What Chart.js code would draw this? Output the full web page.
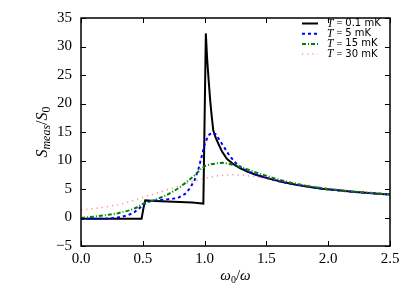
<!DOCTYPE html>
<html>
<head>
<meta charset="utf-8">
<script src="https://cdn.jsdelivr.net/npm/chart.js@4/dist/chart.umd.min.js"></script>
<style>
  html, body { margin: 0; padding: 0; background: #fff; }
  #wrap { width: 407px; height: 289px; }
</style>
</head>
<body>
<div id="wrap"><canvas id="chart" width="407" height="289"></canvas></div>
<script>
// values
const xTicks = [0, 0.5, 1.0, 1.5, 2.0, 2.5];
const yTicks = [-5, 0, 5, 10, 15, 20, 25, 30, 35];

const seriesLabels = ["0.1 mK", "5 mK", "15 mK", "30 mK"];

const xBlack = [0, 0.49, 0.505, 0.52, 0.6, 0.7, 0.8, 0.9, 0.96, 0.99, 1.01, 1.02, 1.033, 1.045, 1.055, 1.07, 1.09, 1.11, 1.14, 1.18, 1.23, 1.29, 1.35, 1.42, 1.5, 1.56, 1.65, 1.74, 1.85, 1.95, 2.1, 2.2, 2.3, 2.4, 2.5];
const yBlack = [-0.2, -0.2, 1.6, 3.0, 2.9, 2.8, 2.72, 2.62, 2.52, 2.45, 32.3, 28, 24, 20.6, 18.3, 15.3, 14.0, 13.0, 11.6, 10.3, 9.4, 8.6, 8.0, 7.45, 6.95, 6.6, 6.15, 5.75, 5.35, 5.05, 4.73, 4.52, 4.35, 4.18, 4.04];

const xBlue = [0, 0.2, 0.3, 0.38, 0.43, 0.47, 0.5, 0.54, 0.6, 0.7, 0.78, 0.84, 0.88, 0.92, 0.95, 0.98, 1.0, 1.03, 1.06, 1.09, 1.12, 1.15, 1.2, 1.25, 1.3, 1.4, 1.5, 1.6, 1.7, 1.85, 2.0, 2.2, 2.4, 2.5];
const yBlue = [-0.25, -0.2, 0.0, 0.4, 0.9, 1.6, 2.2, 2.75, 3.0, 3.2, 3.4, 4.1, 5.1, 6.6, 8.5, 11.0, 12.8, 14.4, 14.9, 14.6, 13.6, 12.6, 10.9, 9.6, 8.7, 7.6, 6.95, 6.35, 5.9, 5.35, 4.92, 4.5, 4.18, 4.04];

const xGreen = [0, 0.1, 0.2, 0.3, 0.4, 0.45, 0.5, 0.55, 0.6, 0.7, 0.8, 0.87, 0.92, 0.96, 1.0, 1.04, 1.1, 1.15, 1.2, 1.3, 1.4, 1.5, 1.6, 1.7, 1.8, 1.9, 2.0, 2.2, 2.4, 2.5];
const yGreen = [-0.1, 0.15, 0.4, 0.75, 1.3, 1.75, 2.4, 2.8, 3.1, 4.0, 5.3, 6.5, 7.4, 8.3, 9.0, 9.3, 9.5, 9.6, 9.4, 8.8, 8.0, 7.3, 6.65, 6.1, 5.65, 5.3, 5.0, 4.55, 4.22, 4.07];

const xRed = [0, 0.1, 0.2, 0.3, 0.4, 0.5, 0.6, 0.7, 0.8, 0.9, 1.0, 1.1, 1.2, 1.3, 1.4, 1.5, 1.6, 1.7, 1.8, 1.9, 2.0, 2.1, 2.2, 2.3, 2.4, 2.5];
const yRed = [1.3, 1.55, 1.85, 2.25, 2.8, 3.5, 4.2, 4.9, 5.6, 6.3, 6.9, 7.3, 7.5, 7.45, 7.2, 6.85, 6.5, 6.15, 5.8, 5.45, 5.15, 4.9, 4.65, 4.45, 4.25, 4.1];

function pts(xs, ys) {
  return xs.map((x, i) => ({ x: x, y: ys[i] }));
}

const styles = [
  { color: "#000000", width: 2, dash: [] },
  { color: "#0000ff", width: 2, dash: [3, 3] },
  { color: "#008000", width: 2, dash: [4, 2, 1, 2] },
  { color: "rgba(255,70,70,0.6)", width: 1.5, dash: [1.2, 4] }
];

const seriesData = [pts(xBlack, yBlack), pts(xBlue, yBlue), pts(xGreen, yGreen), pts(xRed, yRed)];

const serif = "'Liberation Serif', 'DejaVu Serif', serif";
const sans = "'DejaVu Sans', sans-serif";

// frame, inward ticks, axis titles, legend
const decor = {
  id: "decor",
  afterDatasetsDraw(chart) {
    const ctx = chart.ctx;
    const a = chart.chartArea;
    const xs = chart.scales.x, ys = chart.scales.y;
    ctx.save();
    ctx.strokeStyle = "#000";
    ctx.lineWidth = 1;
    ctx.setLineDash([]);
    xTicks.forEach(v => {
      const px = Math.round(xs.getPixelForValue(v)) + 0.5;
      ctx.beginPath();
      ctx.moveTo(px, a.bottom); ctx.lineTo(px, a.bottom - 5);
      ctx.moveTo(px, a.top); ctx.lineTo(px, a.top + 5);
      ctx.stroke();
    });
    yTicks.forEach(v => {
      const py = Math.round(ys.getPixelForValue(v)) + 0.5;
      ctx.beginPath();
      ctx.moveTo(a.left, py); ctx.lineTo(a.left + 5, py);
      ctx.moveTo(a.right, py); ctx.lineTo(a.right - 5, py);
      ctx.stroke();
    });
    ctx.lineWidth = 1.5;
    ctx.strokeRect(a.left, a.top, a.right - a.left, a.bottom - a.top);

    // x title: ω0/ω
    ctx.fillStyle = "#000";
    ctx.textBaseline = "alphabetic";
    ctx.textAlign = "left";
    const cx = (a.left + a.right) / 2;
    const parts = [
      ["italic 15px " + serif, "ω", 0],
      ["10px " + serif, "0", 3],
      ["15px " + serif, "/", 0],
      ["italic 15px " + serif, "ω", 0]
    ];
    let w = 0;
    parts.forEach(p => { ctx.font = p[0]; w += ctx.measureText(p[1]).width; });
    let x0 = cx - w / 2;
    parts.forEach(p => {
      ctx.font = p[0];
      ctx.fillText(p[1], x0, 280 + p[2]);
      x0 += ctx.measureText(p[1]).width;
    });

    // y title: S_meas / S_0
    ctx.save();
    ctx.translate(47, (a.top + a.bottom) / 2);
    ctx.rotate(-Math.PI / 2);
    const yparts = [
      ["italic 16px " + serif, "S", 0],
      ["italic 12px " + serif, "meas", 3],
      ["16px " + serif, "/", 0],
      ["italic 16px " + serif, "S", 0],
      ["12px " + serif, "0", 3]
    ];
    w = 0;
    yparts.forEach(p => { ctx.font = p[0]; w += ctx.measureText(p[1]).width; });
    x0 = -w / 2;
    yparts.forEach(p => {
      ctx.font = p[0];
      ctx.fillText(p[1], x0, 0 + p[2]);
      x0 += ctx.measureText(p[1]).width;
    });
    ctx.restore();

    // legend
    seriesLabels.forEach((lab, i) => {
      const y = 23.5 + i * 10.2;
      const s = styles[i];
      ctx.strokeStyle = s.color;
      ctx.lineWidth = s.width;
      ctx.setLineDash(s.dash);
      ctx.beginPath();
      ctx.moveTo(302, y); ctx.lineTo(318, y);
      ctx.stroke();
      ctx.setLineDash([]);
      ctx.fillStyle = "#000";
      ctx.textBaseline = "middle";
      ctx.font = "italic 11.5px " + serif;
      ctx.fillText("T", 327, y);
      let lx = 327 + ctx.measureText("T").width + 3;
      ctx.font = "10.5px " + serif;
      ctx.fillText("=", lx, y);
      lx += ctx.measureText("=").width + 3;
      ctx.font = "10px " + sans;
      ctx.fillText(lab, lx, y);
    });
    ctx.restore();
  }
};

new Chart(document.getElementById("chart"), {
  type: "scatter",
  data: {
    datasets: seriesData.map((d, i) => ({
      label: seriesLabels[i],
      data: d,
      showLine: true,
      borderColor: styles[i].color,
      borderWidth: styles[i].width,
      borderDash: styles[i].dash,
      pointRadius: 0,
      tension: 0,
      fill: false,
      order: 4 - i
    }))
  },
  options: {
    responsive: false,
    animation: false,
    events: [],
    layout: { padding: { left: 0, top: 11, right: 17, bottom: 0 } },
    plugins: { legend: { display: false }, tooltip: { enabled: false } },
    scales: {
      x: {
        type: "linear",
        min: 0, max: 2.5,
        afterBuildTicks: s => { s.ticks = xTicks.map(v => ({ value: v })); },
        afterFit: s => { s.height = 43; },
        grid: { display: false, drawTicks: false },
        border: { display: false },
        ticks: {
          color: "#000",
          font: { family: serif, size: 15 },
          padding: 4,
          maxRotation: 0,
          callback: v => v.toFixed(1)
        }
      },
      y: {
        type: "linear",
        min: -5, max: 35,
        afterBuildTicks: s => { s.ticks = yTicks.map(v => ({ value: v })); },
        afterFit: s => { s.width = 81; },
        grid: { display: false, drawTicks: false },
        border: { display: false },
        ticks: {
          color: "#000",
          font: { family: serif, size: 15 },
          padding: 9,
          callback: v => (v < 0 ? "\u2212" + Math.abs(v) : String(v))
        }
      }
    }
  },
  plugins: [decor]
});
</script>
</body>
</html>
